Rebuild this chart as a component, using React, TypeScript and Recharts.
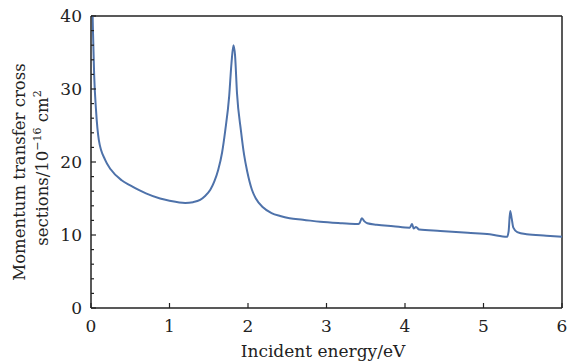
import React from "react";
import {
  LineChart,
  Line,
  XAxis,
  YAxis,
  ReferenceLine,
} from "recharts";

// values
const energy = [
  0.01, 0.025, 0.04, 0.064, 0.1, 0.18, 0.25, 0.39, 0.5, 0.62, 0.7, 0.88, 1.0,
  1.2, 1.3, 1.39, 1.45, 1.52, 1.57, 1.62, 1.67, 1.71, 1.76, 1.79, 1.815, 1.835,
  1.86, 1.91, 1.95, 1.99, 2.05, 2.1, 2.19, 2.3, 2.41, 2.53, 2.7, 2.92, 3.2,
  3.39, 3.42, 3.45, 3.48, 3.52, 3.64, 3.85, 4.06, 4.09, 4.11, 4.14, 4.18, 4.45,
  4.8, 5.08, 5.3, 5.32, 5.34, 5.36, 5.38, 5.43, 5.55, 5.8, 6.0,
];
const crossSection = [
  45, 38, 32, 27.1, 23, 20.3, 19.0, 17.5, 16.8, 16.1, 15.7, 15.0, 14.7, 14.4,
  14.5, 14.8, 15.3, 16.2, 17.3, 18.9, 21.3, 24.3, 29.0, 33.6, 36.0, 34.6, 29.4,
  24.3, 21.0, 18.7, 16.2, 15.0, 13.8, 13.0, 12.6, 12.3, 12.1, 11.8, 11.6, 11.5,
  11.6, 12.3, 11.9, 11.6, 11.4, 11.2, 11.0, 11.5, 10.9, 11.1, 10.75, 10.55,
  10.3, 10.1, 9.75, 10.5, 13.3, 12.2, 11.0, 10.4, 10.1, 9.9, 9.75,
];
const xTicks = [0, 1, 2, 3, 4, 5, 6];
const yTicks = [
  0, 2, 4, 6, 8, 10, 12, 14, 16, 18, 20, 22, 24, 26, 28, 30, 32, 34, 36, 38, 40,
];

const data = energy.map((e, i) => ({ e, q: crossSection[i] }));

const FONT = "'DejaVu Serif', 'Liberation Serif', serif";
const AXIS = "#222";

const XTick = (props: any) => {
  const { x, y, payload } = props;
  return (
    <g>
      <line x1={x} x2={x} y1={y} y2={y - 5} stroke={AXIS} strokeWidth={1.2} />
      <text
        x={x}
        y={y + 24}
        textAnchor="middle"
        fontFamily={FONT}
        fontSize={17}
        fill="#222"
      >
        {payload.value}
      </text>
    </g>
  );
};

const YTick = (props: any) => {
  const { x, y, payload } = props;
  const major = payload.value % 10 === 0;
  return (
    <g>
      <line
        x1={x}
        x2={x + (major ? 5 : 3)}
        y1={y}
        y2={y}
        stroke={AXIS}
        strokeWidth={1.2}
      />
      {major && (
        <text
          x={x - 9}
          y={y}
          dy="0.36em"
          textAnchor="end"
          fontFamily={FONT}
          fontSize={17}
          fill="#222"
        >
          {payload.value}
        </text>
      )}
    </g>
  );
};

const XLabel = () => (
  <text
    x={323}
    y={357}
    textAnchor="middle"
    fontFamily={FONT}
    fontSize={17}
    fill="#222"
  >
    Incident energy/eV
  </text>
);

const YLabel = () => (
  <g fontFamily={FONT} fontSize={16.5} fill="#222">
    <text transform="translate(25,172) rotate(-90)" textAnchor="middle">
      Momentum transfer cross
    </text>
    <text transform="translate(48,168) rotate(-90)" textAnchor="middle">
      sections/10
      <tspan dy={-7} fontSize={11}>
        −16
      </tspan>
      <tspan dy={7}> cm</tspan>
      <tspan dy={-7} fontSize={11}>
        2
      </tspan>
    </text>
  </g>
);

export default function App() {
  return (
    <div style={{ position: "absolute", left: 0, top: 0, background: "#fff" }}>
      <LineChart
        width={567}
        height={362}
        data={data}
        margin={{ top: 16, right: 5, left: 0, bottom: 0 }}
      >
        <XAxis
          dataKey="e"
          type="number"
          domain={[0, 6]}
          ticks={xTicks}
          tickLine={false}
          tickSize={0}
          tickMargin={0}
          tick={<XTick />}
          axisLine={{ stroke: AXIS, strokeWidth: 1.5 }}
          height={54}
          label={{ content: () => <XLabel /> }}
        />
        <YAxis
          type="number"
          domain={[0, 40]}
          ticks={yTicks}
          interval={0}
          allowDataOverflow
          tickLine={false}
          tickSize={0}
          tickMargin={0}
          tick={<YTick />}
          axisLine={{ stroke: AXIS, strokeWidth: 1.5 }}
          width={91}
          label={{ content: () => <YLabel /> }}
        />
        <ReferenceLine y={40} stroke={AXIS} strokeWidth={1.5} />
        <ReferenceLine x={6} stroke={AXIS} strokeWidth={1.5} />
        <Line
          dataKey="q"
          type="monotone"
          stroke="#4e72aa"
          strokeWidth={2}
          dot={false}
          isAnimationActive={false}
        />
      </LineChart>
    </div>
  );
}
